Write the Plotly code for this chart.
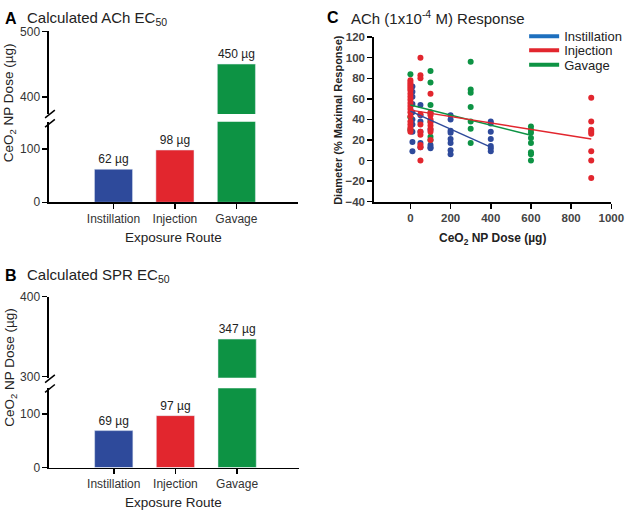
import plotly.graph_objects as go

W, H = 640, 519
def px(x): return x / W
def py(y): return 1 - y / H

FONT = "Arial, Liberation Sans, sans-serif"

# ---------------- data ----------------
routes = ["Instillation", "Injection", "Gavage"]
route_pos = [0, 1, 2]
ach_ec50 = [62, 98, 450]
spr_ec50 = [69, 97, 347]
bar_colors = ["#2E4A9B", "#E2262E", "#0D9344"]

# Panel C scatter values (dose -> list of responses)
instill_doses = [10, 50, 100, 200, 400]
instill_values = [
    [72, 67, 62, 55, 47, 40, 35, 28, 18, 9],
    [54, 44, 38, 28, 17, 13],
    [30, 15, 13, 12],
    [44, 40, 29, 27, 21, 17, 10, 6],
    [38, 36, 28, 21, 14, 12, 9],
]
inject_doses = [0, 50, 100, 900]
inject_values = [
    [78, 76, 74, 72, 70, 68, 65, 62, 59, 56, 53, 50, 47, 43, 38, 35, 32, 30, 28],
    [100, 83, 80, 45, 35, 28, 25, 15, 13, 0],
    [65, 47, 44, 40, 37, 34, 31, 28, 20],
    [61, 38, 30, 28, 26, 9, 0, -17],
]
gavage_doses = [0, 100, 300, 600]
gavage_values = [
    [84, 42, 30],
    [87, 76, 54, 46, 38, 23, 20],
    [96, 69, 66, 52, 38, 31, 17],
    [33, 30, 27, 22, 17, 8, 6, 0],
]
# regression lines (dose range, response at ends)
fit_instill_x, fit_instill_y = [0, 400], [48, 13]
fit_inject_x, fit_inject_y = [0, 900], [49, 21]
fit_gavage_x, fit_gavage_y = [0, 600], [54, 24.5]

scatter_colors = ["#2E4A9B", "#E2262E", "#0D9344"]
legend_colors = ["#1D6FBE", "#E2262E", "#0D9344"]


def flatten(doses, values):
    xs, ys = [], []
    for d, vals in zip(doses, values):
        xs += [d] * len(vals)
        ys += vals
    return xs, ys


fig = go.Figure()

# ---------------- Panels A and B (broken axes) ----------------
panels = [
    (ach_ec50, ("x", "y"), ("x2", "y2"), 151),
    (spr_ec50, ("x3", "y3"), ("x4", "y4"), 148.4),
]
for vals, low, up, low_top in panels:
    fig.add_trace(go.Bar(
        x=route_pos, y=vals, marker_color=bar_colors, width=0.62,
        text=[f"{v} µg" if v <= low_top else "" for v in vals],
        textposition="outside", textfont=dict(size=12, color="#222", family=FONT),
        constraintext="none", xaxis=low[0], yaxis=low[1], showlegend=False,
        hoverinfo="skip"))
    fig.add_trace(go.Bar(
        x=route_pos, y=vals, marker_color=bar_colors, width=0.62,
        text=[f"{v} µg" if v > low_top else "" for v in vals],
        textposition="outside", textfont=dict(size=12, color="#222", family=FONT),
        constraintext="none", xaxis=up[0], yaxis=up[1], showlegend=False,
        hoverinfo="skip"))

# ---------------- Panel C ----------------
for doses, values, col in [(instill_doses, instill_values, scatter_colors[0]),
                           (gavage_doses, gavage_values, scatter_colors[2]),
                           (inject_doses, inject_values, scatter_colors[1])]:
    xs, ys = flatten(doses, values)
    fig.add_trace(go.Scatter(x=xs, y=ys, mode="markers",
                             marker=dict(size=6, color=col),
                             xaxis="x5", yaxis="y5", showlegend=False,
                             hoverinfo="skip"))
for fx, fy, col in [(fit_instill_x, fit_instill_y, scatter_colors[0]),
                    (fit_gavage_x, fit_gavage_y, scatter_colors[2]),
                    (fit_inject_x, fit_inject_y, scatter_colors[1])]:
    fig.add_trace(go.Scatter(x=fx, y=fy, mode="lines",
                             line=dict(color=col, width=1.5),
                             xaxis="x5", yaxis="y5", showlegend=False,
                             hoverinfo="skip"))
legend_ids = ["legend", "legend2", "legend3"]
for name, col, lid in zip(routes, legend_colors, legend_ids):
    fig.add_trace(go.Scatter(x=[None], y=[None], mode="lines", name=name,
                             line=dict(color=col, width=4), legend=lid,
                             xaxis="x5", yaxis="y5"))

# ---------------- layout ----------------
tick_font = dict(family=FONT, size=12, color="#333")
axis_common = dict(showline=True, linecolor="black", linewidth=1.5,
                   ticks="outside", ticklen=5, tickwidth=1.5, tickcolor="black",
                   showgrid=False, zeroline=False, tickfont=tick_font)
hidden = dict(visible=False, showgrid=False, zeroline=False)
c_font = dict(family=FONT, size=11.5, color="#444", weight="bold")

def legend_at(y):
    return dict(x=px(535), y=py(y), xanchor="left", yanchor="middle",
                font=dict(family=FONT, size=13, color="#222"),
                bgcolor="rgba(0,0,0,0)", itemwidth=30, borderwidth=0)

layout = dict(
    width=W, height=H, margin=dict(l=0, r=0, t=0, b=0),
    paper_bgcolor="white", plot_bgcolor="white",
    font=dict(family=FONT, color="#222"),
    barmode="overlay",
    # Panel A
    xaxis=dict(domain=[px(50), px(304)], range=[-1.05, 3.0], anchor="y",
               tickvals=route_pos, ticktext=routes, **axis_common),
    yaxis=dict(domain=[py(200.7), py(118)], range=[0, 151], anchor="x",
               tickvals=[0, 100], **axis_common),
    xaxis2=dict(domain=[px(50), px(304)], range=[-1.05, 3.0], anchor="y2", **hidden),
    yaxis2=dict(domain=[py(110), py(25)], range=[373.7, 500], anchor="x2",
                tickvals=[400, 500], **axis_common),
    # Panel B
    xaxis3=dict(domain=[px(50), px(305)], range=[-1.05, 3.0], anchor="y3",
                tickvals=route_pos, ticktext=routes, **axis_common),
    yaxis3=dict(domain=[py(473.3), py(391.7)], range=[0, 148.4], anchor="x3",
                tickvals=[0, 100], **axis_common),
    xaxis4=dict(domain=[px(50), px(305)], range=[-1.05, 3.0], anchor="y4", **hidden),
    yaxis4=dict(domain=[py(381), py(297.7)], range=[298.7, 400], anchor="x4",
                tickvals=[300, 400], **axis_common),
    # Panel C
    xaxis5=dict(domain=[px(382), px(624)], range=[-180, 1000], anchor="y5",
                tickvals=[0, 200, 400, 600, 800, 1000],
                **{**axis_common, "linewidth": 2, "tickfont": c_font}),
    yaxis5=dict(domain=[py(200), py(31)], range=[-40, 120], anchor="x5",
                dtick=20, **{**axis_common, "linewidth": 2, "tickfont": c_font}),
    legend=legend_at(30),
    legend2=legend_at(44.5),
    legend3=legend_at(59.5),
    showlegend=True,
)
fig.update_layout(**layout)

ann = []
def text(x, y, s, size, bold=False, anchor="left", angle=0, color="#222"):
    ann.append(dict(x=px(x), y=py(y), xref="paper", yref="paper", text=s,
                    showarrow=False, xanchor=anchor, yanchor="middle",
                    textangle=angle, font=dict(family=FONT, size=size, color=color,
                                               weight="bold" if bold else "normal")))

# Panel titles
text(3, 12, "A", 16, bold=True, color="black")
text(26, 12, "Calculated ACh EC<sub>50</sub>", 15)
text(3, 276, "B", 16, bold=True, color="black")
text(26, 276, "Calculated SPR EC<sub>50</sub>", 15)
text(332, 11, "C", 16, bold=True, color="black")
text(356, 11, "ACh (1x10<sup>-4</sup> M) Response", 15)
# Axis titles
text(177, 237, "Exposure Route", 13.5, anchor="center")
text(177, 509, "Exposure Route", 13.5, anchor="center")
text(10, 98, "CeO<sub>2</sub> NP Dose (µg)", 13.5, anchor="center", angle=-90)
text(10, 370, "CeO<sub>2</sub> NP Dose (µg)", 13.5, anchor="center", angle=-90)
text(503, 238, "<b>CeO<sub>2</sub> NP Dose (µg)</b>", 12, anchor="center")
text(345, 116, "<b>Diameter (% Maximal Response)</b>", 11, anchor="center", angle=-90)
fig.update_layout(annotations=ann)

# axis-break marks
shapes = []
def slash(xc, yc):
    shapes.append(dict(type="line", xref="paper", yref="paper",
                       x0=px(xc - 5), y0=py(yc + 4), x1=px(xc + 5), y1=py(yc - 4),
                       line=dict(color="black", width=1.5)))
slash(51, 110)
slash(51, 119.5)
slash(51, 382)
slash(51, 392)
fig.update_layout(shapes=shapes)

fig.write_html("out.html",
               config={"displayModeBar": False, "staticPlot": True},
               post_script="document.body.style.margin='0';"
                           "document.body.style.overflow='hidden';")
